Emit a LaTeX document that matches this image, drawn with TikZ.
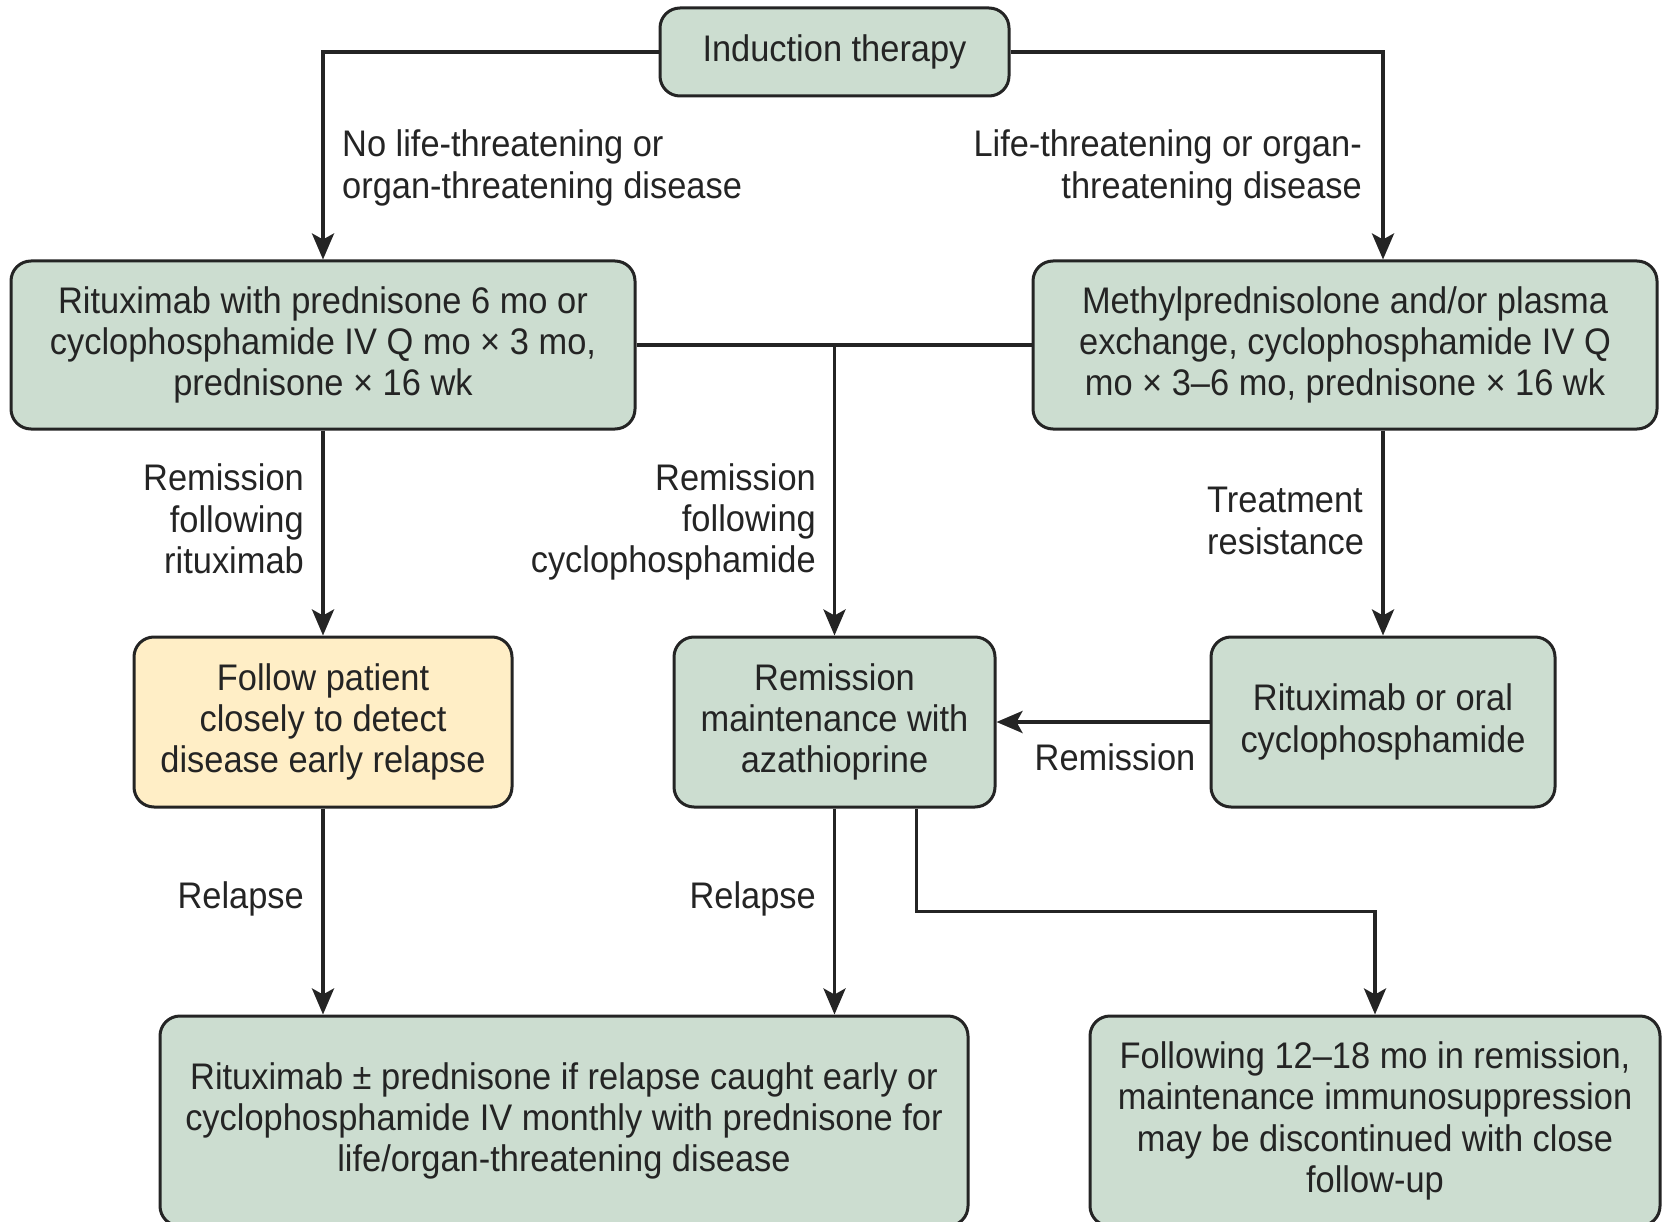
\documentclass[tikz,border=0pt]{standalone}
\usepackage{fontspec}
\setmainfont{Liberation Sans}[FakeStretch=0.93]
\usetikzlibrary{arrows.meta,positioning,calc}
\definecolor{boxgreen}{HTML}{CCDDD0}
\definecolor{boxyellow}{HTML}{FFEEC6}
\definecolor{inkline}{HTML}{242424}
\tikzset{
  base/.style={font=\fontsize{37}{41.4}\selectfont, text=inkline},
  box/.style={base, draw=inkline, line width=3pt, rounded corners=20pt, fill=boxgreen, align=center, inner sep=0pt},
  ybox/.style={box, fill=boxyellow},
  lbl/.style={base, inner sep=0pt},
  conn/.style={draw=inkline, line width=3.8pt},
  arr/.style={conn, -{Stealth[length=26pt,width=22pt,inset=6pt]}}
}
\begin{document}
\begin{tikzpicture}[x=1pt,y=-1pt]
\useasboundingbox (0,0) rectangle (1665,1222);
\begin{scope}
\clip (0,0) rectangle (1665,1222);
\node[box, minimum width=349pt, minimum height=88pt] (ind) at (834.5,52) {Induction therapy};
\node[box, minimum width=624pt, minimum height=168pt] (A) at (323,345) {Rituximab with prednisone 6 mo or\\cyclophosphamide IV Q mo × 3 mo,\\prednisone × 16 wk};
\node[box, minimum width=624pt, minimum height=168pt] (B) at (1345,345) {Methylprednisolone and/or plasma\\exchange, cyclophosphamide IV Q\\mo × 3–6 mo, prednisone × 16 wk};
\node[ybox, minimum width=378pt, minimum height=170pt] (C) at (323,722) {Follow patient\\closely to detect\\disease early relapse};
\node[box, minimum width=321pt, minimum height=170pt] (D) at (834.5,722) {Remission\\maintenance with\\azathioprine};
\node[box, minimum width=344pt, minimum height=170pt] (E) at (1383,722) {Rituximab or oral\\cyclophosphamide};
\node[box, minimum width=808pt, minimum height=210pt] (F) at (564,1121) {Rituximab ± prednisone if relapse caught early or\\cyclophosphamide IV monthly with prednisone for\\life/organ-threatening disease};
\node[box, minimum width=570pt, minimum height=210pt] (G) at (1375,1121) {Following 12–18 mo in remission,\\maintenance immunosuppression\\may be discontinued with close\\follow-up};
\end{scope}

% labels
\node[lbl, align=left, anchor=west] (l1) at (342,168) {No life-threatening or\\organ-threatening disease};
\node[lbl, align=right, anchor=east] (l2) at (1362,168) {Life-threatening or organ-\\threatening disease};
\node[lbl, align=right, anchor=east] (l3) at (304,519) {Remission\\following\\rituximab};
\node[lbl, align=right, anchor=east] (l4) at (816,522) {Remission\\following\\cyclophosphamide};
\node[lbl, align=left, anchor=west] (l5) at (1207,521) {Treatment\\resistance};
\node[lbl] (l6) at (1115,757) {Remission};
\node[lbl, anchor=east] (l7) at (304,899) {Relapse};
\node[lbl, anchor=east] (l8) at (816,899) {Relapse};

% connectors
\draw[arr] (ind.west) -| (A.north);
\draw[arr] (ind.east) -| (E.north |- B.north);
\draw[conn] (A.east) -- (B.west);
\draw[arr] (D.north |- A.east) -- (D.north);
\draw[arr] (A.south) -- (C.north);
\draw[arr] (E.north |- B.south) -- (E.north);
\draw[arr] (E.west) -- (D.east);
\draw[arr] (C.south) -- (C.south |- F.north);
\draw[arr] (D.south) -- (D.south |- F.north);
\draw[arr] ([xshift=82pt]D.south) -- ++(0,103) -| (G.north);
\end{tikzpicture}
\end{document}
